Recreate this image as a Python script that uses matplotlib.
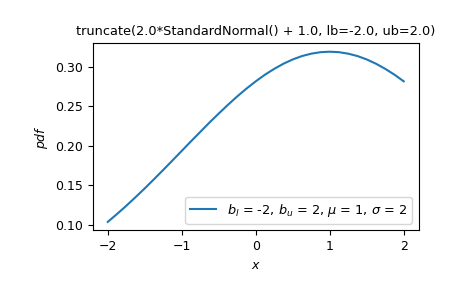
import numpy as np
import matplotlib.pyplot as plt

# pontos (x, pdf)
x = [-2.0, -1.875, -1.75, -1.625, -1.5, -1.375, -1.25, -1.125, -1.0,
     -0.875, -0.75, -0.625, -0.5, -0.375, -0.25, -0.125, 0.0,
     0.125, 0.25, 0.375, 0.5, 0.625, 0.75, 0.875, 1.0,
     1.125, 1.25, 1.375, 1.5, 1.625, 1.75, 1.875, 2.0]
pdf = [0.1037, 0.1137, 0.1241, 0.1350, 0.1462, 0.1578, 0.1696, 0.1816, 0.1937,
       0.2058, 0.2177, 0.2296, 0.2410, 0.2521, 0.2627, 0.2726, 0.2818,
       0.2902, 0.2976, 0.3041, 0.3095, 0.3138, 0.3168, 0.3187, 0.3193,
       0.3187, 0.3168, 0.3138, 0.3095, 0.3041, 0.2976, 0.2902, 0.2818]

title = "truncate(2.0*StandardNormal() + 1.0, lb=-2.0, ub=2.0)"
label = r"$b_l$ = -2, $b_u$ = 2, $\mu$ = 1, $\sigma$ = 2"

plt.rcParams['font.size'] = 9

fig, ax = plt.subplots(figsize=(4.65, 2.88), dpi=100)
fig.subplots_adjust(left=0.2, right=0.9, bottom=0.2, top=0.85)

ax.plot(x, pdf, color="#1f77b4", label=label)
ax.set_xlabel(r"$x$")
ax.set_ylabel(r"$pdf$")
ax.set_title(title, fontsize=9.3)
ax.set_xticks([-2, -1, 0, 1, 2])
ax.set_yticks([0.10, 0.15, 0.20, 0.25, 0.30])
ax.legend(loc="lower right", fontsize=9.3)

fig.savefig("out.png", dpi=100)
